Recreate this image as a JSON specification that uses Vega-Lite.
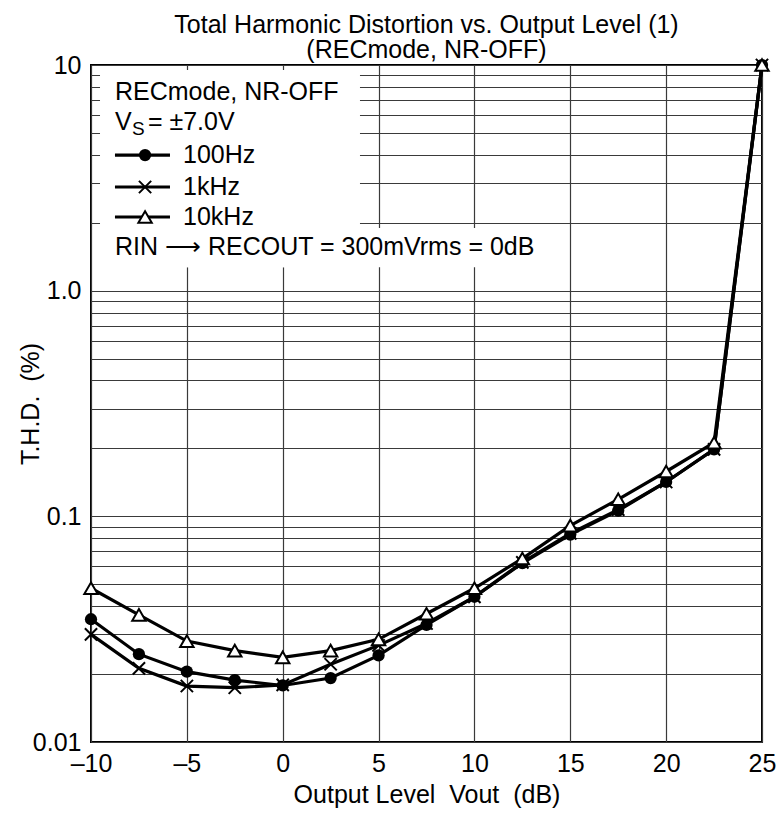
{
  "$schema": "https://vega.github.io/schema/vega-lite/v6.json",
  "width": 671,
  "height": 677,
  "autosize": {"type": "none"},
  "padding": {"left": 91, "top": 65, "right": 16, "bottom": 73},
  "background": "white",
  "title": {
    "text": ["Total Harmonic Distortion vs. Output Level (1)", "(RECmode, NR-OFF)"],
    "font": "Liberation Sans",
    "fontSize": 25,
    "fontWeight": "normal",
    "color": "black",
    "lineHeight": 25,
    "offset": -10,
    "anchor": "middle"
  },
  "config": {
    "view": {"stroke": "black", "strokeWidth": 2},
    "font": "Liberation Sans",
    "axis": {
      "labelFont": "Liberation Sans",
      "titleFont": "Liberation Sans",
      "labelFontSize": 25,
      "titleFontSize": 25,
      "titleFontWeight": "normal",
      "labelColor": "black",
      "titleColor": "black",
      "ticks": false,
      "domain": false,
      "grid": true,
      "gridColor": "#3a3a3a",
      "gridWidth": 1.2,
      "gridOpacity": 1,
      "labelOverlap": false,
      "labelFlush": false,
      "labelBound": false
    }
  },
  "datasets": {
    "curves": [
      {"vout": -10, "thd": 0.035, "f": "100Hz"},
      {"vout": -7.5, "thd": 0.0245, "f": "100Hz"},
      {"vout": -5, "thd": 0.0205, "f": "100Hz"},
      {"vout": -2.5, "thd": 0.0188, "f": "100Hz"},
      {"vout": 0, "thd": 0.0178, "f": "100Hz"},
      {"vout": 2.5, "thd": 0.0192, "f": "100Hz"},
      {"vout": 5, "thd": 0.0242, "f": "100Hz"},
      {"vout": 7.5, "thd": 0.033, "f": "100Hz"},
      {"vout": 10, "thd": 0.044, "f": "100Hz"},
      {"vout": 12.5, "thd": 0.062, "f": "100Hz"},
      {"vout": 15, "thd": 0.083, "f": "100Hz"},
      {"vout": 17.5, "thd": 0.106, "f": "100Hz"},
      {"vout": 20, "thd": 0.142, "f": "100Hz"},
      {"vout": 22.5, "thd": 0.198, "f": "100Hz"},
      {"vout": 25, "thd": 10, "f": "100Hz"},
      {"vout": -10, "thd": 0.030, "f": "1kHz"},
      {"vout": -7.5, "thd": 0.0212, "f": "1kHz"},
      {"vout": -5, "thd": 0.0177, "f": "1kHz"},
      {"vout": -2.5, "thd": 0.0174, "f": "1kHz"},
      {"vout": 0, "thd": 0.0179, "f": "1kHz"},
      {"vout": 2.5, "thd": 0.0221, "f": "1kHz"},
      {"vout": 5, "thd": 0.0268, "f": "1kHz"},
      {"vout": 7.5, "thd": 0.0335, "f": "1kHz"},
      {"vout": 10, "thd": 0.044, "f": "1kHz"},
      {"vout": 12.5, "thd": 0.0625, "f": "1kHz"},
      {"vout": 15, "thd": 0.084, "f": "1kHz"},
      {"vout": 17.5, "thd": 0.107, "f": "1kHz"},
      {"vout": 20, "thd": 0.142, "f": "1kHz"},
      {"vout": 22.5, "thd": 0.198, "f": "1kHz"},
      {"vout": 25, "thd": 10, "f": "1kHz"},
      {"vout": -10, "thd": 0.048, "f": "10kHz"},
      {"vout": -7.5, "thd": 0.0366, "f": "10kHz"},
      {"vout": -5, "thd": 0.028, "f": "10kHz"},
      {"vout": -2.5, "thd": 0.0254, "f": "10kHz"},
      {"vout": 0, "thd": 0.0237, "f": "10kHz"},
      {"vout": 2.5, "thd": 0.0254, "f": "10kHz"},
      {"vout": 5, "thd": 0.0285, "f": "10kHz"},
      {"vout": 7.5, "thd": 0.037, "f": "10kHz"},
      {"vout": 10, "thd": 0.048, "f": "10kHz"},
      {"vout": 12.5, "thd": 0.065, "f": "10kHz"},
      {"vout": 15, "thd": 0.091, "f": "10kHz"},
      {"vout": 17.5, "thd": 0.119, "f": "10kHz"},
      {"vout": 20, "thd": 0.158, "f": "10kHz"},
      {"vout": 22.5, "thd": 0.212, "f": "10kHz"},
      {"vout": 25, "thd": 10, "f": "10kHz"}
    ],
    "boxes": [
      {"x1": -9.53, "x2": 4.03, "y1": 1.27, "y2": 9.5},
      {"x1": -9.53, "x2": 14.2, "y1": 1.27, "y2": 1.894}
    ],
    "keys": [
      {"f": "100Hz", "x1": -8.75, "x2": -5.88, "xs": -7.18, "xt": -5.2, "y": 3.99},
      {"f": "1kHz", "x1": -8.75, "x2": -5.88, "xs": -7.18, "xt": -5.2, "y": 2.88},
      {"f": "10kHz", "x1": -8.75, "x2": -5.88, "xs": -7.18, "xt": -5.2, "y": 2.12}
    ],
    "notes": [
      {"t": "RECmode, NR-OFF", "x": -8.75, "y": 7.61, "size": 25},
      {"t": "V", "x": -8.75, "y": 5.6, "size": 25},
      {"t": "S", "x": -7.86, "y": 5.2, "size": 19},
      {"t": "= ±7.0V", "x": -7.03, "y": 5.6, "size": 25},
      {"t": "RIN ⟶ RECOUT = 300mVrms = 0dB", "x": -8.75, "y": 1.565, "size": 25}
    ]
  },
  "encoding": {
    "x": {
      "field": "vout", "type": "quantitative",
      "scale": {"domain": [-10, 25], "nice": false, "zero": false},
      "axis": {
        "values": [-10, -5, 0, 5, 10, 15, 20, 25],
        "labelExpr": "datum.value < 0 ? '–' + abs(datum.value) : '' + datum.value",
        "labelPadding": 9,
        "title": "Output Level\u00a0\u00a0Vout\u00a0\u00a0(dB)",
        "titlePadding": 6
      }
    },
    "y": {
      "field": "thd", "type": "quantitative",
      "scale": {"type": "log", "domain": [0.01, 10], "nice": false},
      "axis": {
        "values": [0.01, 0.02, 0.03, 0.04, 0.05, 0.06, 0.07, 0.08, 0.09, 0.1, 0.2, 0.3, 0.4, 0.5, 0.6, 0.7, 0.8, 0.9, 1, 2, 3, 4, 5, 6, 7, 8, 9, 10],
        "labelExpr": "datum.value == 10 ? '10' : datum.value == 1 ? '1.0' : datum.value == 0.1 ? '0.1' : datum.value == 0.01 ? '0.01' : ''",
        "labelPadding": 10,
        "title": "T.H.D.\u00a0\u00a0(%)",
        "titleX": -61,
        "titleY": 338.5,
        "titleAngle": -90,
        "titleAlign": "center",
        "titleBaseline": "middle"
      }
    }
  },
  "layer": [
    {
      "data": {"name": "boxes"},
      "mark": {"type": "rect", "fill": "white", "stroke": null},
      "encoding": {
        "x": {"field": "x1", "type": "quantitative"},
        "x2": {"field": "x2"},
        "y": {"field": "y1", "type": "quantitative"},
        "y2": {"field": "y2"}
      }
    },
    {
      "data": {"name": "curves"},
      "mark": {"type": "line", "color": "black", "strokeWidth": 3.2},
      "encoding": {"detail": {"field": "f"}}
    },
    {
      "data": {"name": "curves"},
      "transform": [{"filter": "datum.f == '100Hz'"}],
      "mark": {"type": "point", "shape": "circle", "filled": true, "fill": "black", "size": 150, "opacity": 1}
    },
    {
      "data": {"name": "curves"},
      "transform": [{"filter": "datum.f == '1kHz'"}],
      "mark": {"type": "point", "shape": "M-1,-1L1,1M1,-1L-1,1", "filled": false, "stroke": "black", "strokeWidth": 2, "size": 150, "opacity": 1}
    },
    {
      "data": {"name": "curves"},
      "transform": [{"filter": "datum.f == '10kHz'"}],
      "mark": {"type": "point", "shape": "triangle-up", "filled": true, "fill": "white", "stroke": "black", "strokeWidth": 2, "size": 180, "opacity": 1}
    },
    {
      "data": {"name": "keys"},
      "mark": {"type": "rule", "color": "black", "strokeWidth": 3.2},
      "encoding": {
        "x": {"field": "x1", "type": "quantitative"},
        "x2": {"field": "x2"},
        "y": {"field": "y", "type": "quantitative"}
      }
    },
    {
      "data": {"name": "keys"},
      "transform": [{"filter": "datum.f == '100Hz'"}],
      "mark": {"type": "point", "shape": "circle", "filled": true, "fill": "black", "size": 150, "opacity": 1},
      "encoding": {
        "x": {"field": "xs", "type": "quantitative"},
        "y": {"field": "y", "type": "quantitative"}
      }
    },
    {
      "data": {"name": "keys"},
      "transform": [{"filter": "datum.f == '1kHz'"}],
      "mark": {"type": "point", "shape": "M-1,-1L1,1M1,-1L-1,1", "filled": false, "stroke": "black", "strokeWidth": 2, "size": 150, "opacity": 1},
      "encoding": {
        "x": {"field": "xs", "type": "quantitative"},
        "y": {"field": "y", "type": "quantitative"}
      }
    },
    {
      "data": {"name": "keys"},
      "transform": [{"filter": "datum.f == '10kHz'"}],
      "mark": {"type": "point", "shape": "triangle-up", "filled": true, "fill": "white", "stroke": "black", "strokeWidth": 2, "size": 180, "opacity": 1},
      "encoding": {
        "x": {"field": "xs", "type": "quantitative"},
        "y": {"field": "y", "type": "quantitative"}
      }
    },
    {
      "data": {"name": "keys"},
      "mark": {"type": "text", "align": "left", "baseline": "middle", "fontSize": 25, "color": "black", "font": "Liberation Sans"},
      "encoding": {
        "x": {"field": "xt", "type": "quantitative"},
        "y": {"field": "y", "type": "quantitative"},
        "text": {"field": "f"}
      }
    },
    {
      "data": {"name": "notes"},
      "mark": {"type": "text", "align": "left", "baseline": "middle", "color": "black", "font": "Liberation Sans"},
      "encoding": {
        "x": {"field": "x", "type": "quantitative"},
        "y": {"field": "y", "type": "quantitative"},
        "text": {"field": "t"},
        "size": {"field": "size", "type": "quantitative", "scale": null}
      }
    }
  ]
}
